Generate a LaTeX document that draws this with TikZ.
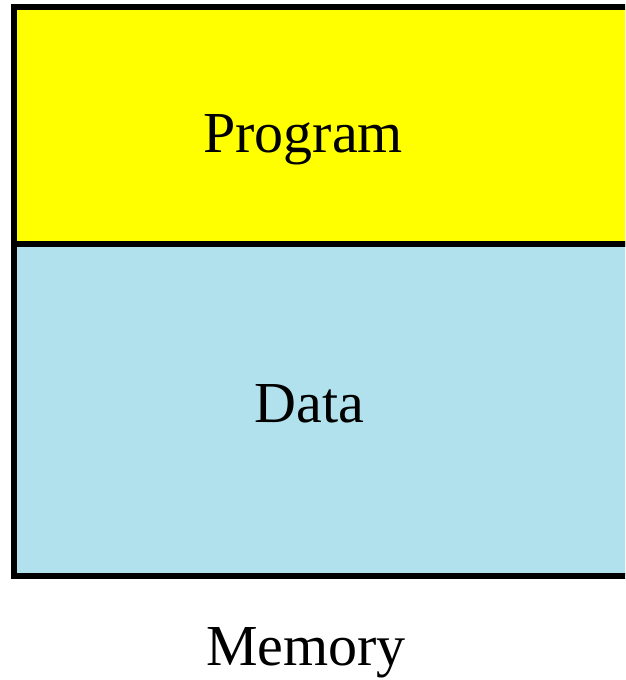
\documentclass[tikz,border=0pt]{standalone}
\usepackage{fontspec}
\setmainfont{Liberation Serif}
\definecolor{progfill}{HTML}{FFFF00}
\definecolor{datafill}{HTML}{B1E1EC}
\begin{document}
\begin{tikzpicture}[x=1pt,y=-1pt,
  region/.style={draw=black,line width=6pt},
  label/.style={anchor=base,inner sep=0pt,font=\fontsize{58}{60}\selectfont}]
  \useasboundingbox (0,0) rectangle (625,680);
  \clip (0,0) rectangle (625,680);
  % memory split into two regions
  \path[region,fill=progfill] (13.5,7) rectangle (640,244);
  \path[region,fill=datafill] (13.5,244) rectangle (640,575.5);
  \node[label] (prog) at (303,152) {Program};
  \node[label] (data) at (309.5,422) {Data};
  \node[label] (mem) at (306,665) {Memory};
\end{tikzpicture}
\end{document}
